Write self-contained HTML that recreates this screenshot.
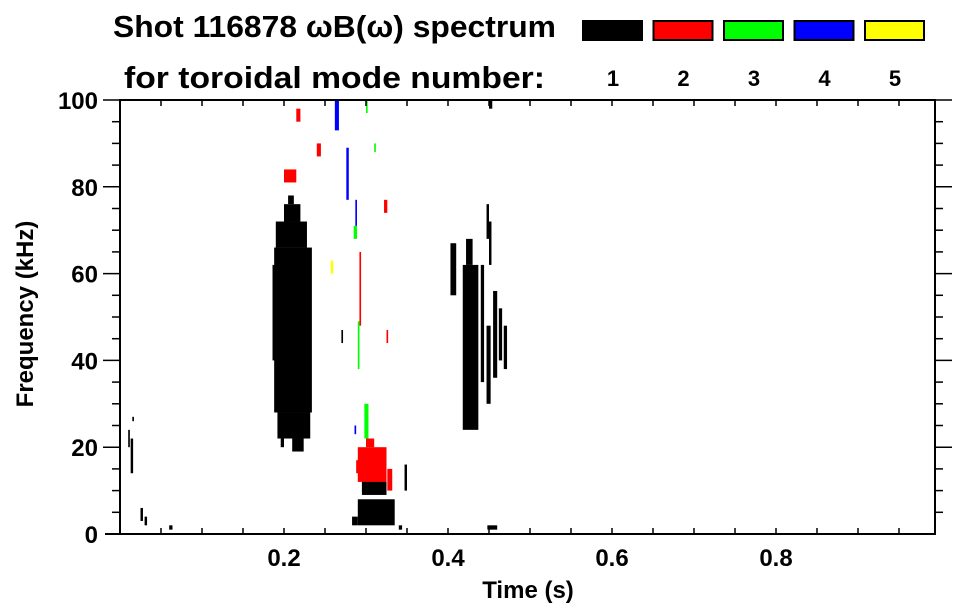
<!DOCTYPE html>
<html><head><meta charset="utf-8"><style>
body{margin:0;background:#fff;}
svg{display:block;font-family:"Liberation Sans",Arial,sans-serif;font-weight:bold;}
</style></head><body>
<svg id="chart" width="963" height="615" viewBox="0 0 963 615">
<text x="113" y="37" font-size="31" textLength="443" lengthAdjust="spacingAndGlyphs">Shot 116878 ωB(ω) spectrum</text>
<text x="124" y="88" font-size="31" textLength="421" lengthAdjust="spacingAndGlyphs">for toroidal mode number:</text>
<g id="legend"></g>
<g id="marks"></g>
<g id="axes"></g>
<text x="528" y="598" font-size="24" text-anchor="middle">Time (s)</text>
<text transform="translate(33,314) rotate(-90)" font-size="24" text-anchor="middle">Frequency (kHz)</text>
</svg>
<script>
const modeColors=["#000000","#ff0000","#00ff00","#0000ff","#ffff00"];
const modeLabels=["1","2","3","4","5"];
const xTicks=[0.2,0.4,0.6,0.8];
const yTicks=[0,20,40,60,80,100];
// spectrum cells: time start/end (s), freq start/end (kHz), mode index
const cellT0=[0.188,0.192,0.19,0.186,0.2,0.205,0.21,0.196,0.214, 0.418,0.422,0.403,0.44,0.447,0.455,0.462,0.468,0.45,0.447, 0.29,0.295,0.283,0.34,0.347, 0.013,0.025,0.03,0.06,0.448,0.45,0.01,0.015,0.27,
 0.29,0.3,0.326,0.288,0.2,0.215,0.24,0.292,0.325,0.322,
 0.285,0.29,0.3,0.298,0.31,
 0.262,0.276,0.287,0.286,
 0.257];
const cellT1=[0.234,0.232,0.228,0.19,0.22,0.212,0.224,0.2,0.218, 0.437,0.43,0.41,0.444,0.452,0.46,0.466,0.472,0.453,0.45, 0.335,0.325,0.29,0.344,0.35, 0.016,0.028,0.033,0.064,0.46,0.454,0.012,0.017,0.272,
 0.325,0.31,0.332,0.292,0.215,0.22,0.245,0.294,0.327,0.326,
 0.289,0.292,0.302,0.303,0.312,
 0.267,0.279,0.289,0.288,
 0.26];
const cellF0=[28,22,66,40,72,76,19,20,20, 24,62,55,35,30,36,40,38,62,68, 2,9,2,1,10, 14,3,2,1,1,98,20,26,44,
 12,20,10,14,81,95,87,48,44,74,
 68,38,97,22,88,
 93,77,71,23,
 60];
const cellF1=[66,28,72,62,76,78,22,22,22, 62,68,67,62,48,56,52,48,72,76, 8,13,4,2,16, 22,6,4,2,2,100,24,27,47,
 20,22,15,17,84,98,90,65,47,77,
 71,49,100,30,90,
 100,89,77,25,
 63];
const cellMode=[0,0,0,0,0,0,0,0,0, 0,0,0,0,0,0,0,0,0,0, 0,0,0,0,0, 0,0,0,0,0,0,0,0,0,
 1,1,1,1,1,1,1,1,1,1,
 2,2,2,2,2,
 3,3,3,3,
 4];
const NS="http://www.w3.org/2000/svg";
const L=120,R=935,T=100,B=534;
const xs=t=>L+820*t;
const ys=f=>B-(B-T)*f/100;
function mk(tag,attrs,parent){const e=document.createElementNS(NS,tag);for(const k in attrs)e.setAttribute(k,attrs[k]);parent.appendChild(e);return e;}
const marks=document.getElementById('marks');
for(let i=0;i<cellT0.length;i++){
  const x0=xs(cellT0[i]),x1=xs(cellT1[i]),y0=ys(cellF1[i]),y1=ys(cellF0[i]);
  const r=mk('rect',{x:x0,y:y0,width:Math.max(1,x1-x0),height:Math.max(1,y1-y0),fill:modeColors[cellMode[i]]},marks);
  
  
}
const lg=document.getElementById('legend');
for(let i=0;i<modeColors.length;i++){
  const x=582+70.5*i;
  const r=mk('rect',{x:x+1,y:21,width:59,height:19,fill:modeColors[i],stroke:'#000','stroke-width':2},lg);
  
  
  const t=mk('text',{x:x+31,y:86,'font-size':22,'text-anchor':'middle'},lg);
  t.textContent=modeLabels[i];
  
  
}
const ax=document.getElementById('axes');
mk('rect',{x:L,y:T,width:R-L,height:B-T,fill:'none',stroke:'#000','stroke-width':2},ax);
mk('line',{x1:105,y1:B,x2:R,y2:B,stroke:'#000','stroke-width':2},ax);
for(let t=0.05;t<1;t+=0.05){
  const x=xs(t);
  mk('line',{x1:x,y1:B,x2:x,y2:B-6,stroke:'#000','stroke-width':1.5},ax);
  mk('line',{x1:x,y1:T,x2:x,y2:T+6,stroke:'#000','stroke-width':1.5},ax);
}
for(const v of xTicks){
  const t=mk('text',{x:xs(v),y:566,'font-size':24,'text-anchor':'middle'},ax);
  t.textContent=v.toFixed(1);
  
  
}
for(let f=5;f<100;f+=5){
  const y=ys(f),maj=f%20===0;
  mk('line',{x1:L,y1:y,x2:L-(maj?17:8),y2:y,stroke:'#000','stroke-width':1.5},ax);
  mk('line',{x1:R,y1:y,x2:R+(maj?17:8),y2:y,stroke:'#000','stroke-width':1.5},ax);
}
mk('line',{x1:L,y1:T,x2:L-17,y2:T,stroke:'#000','stroke-width':1.5},ax);
mk('line',{x1:R,y1:T,x2:R+17,y2:T,stroke:'#000','stroke-width':1.5},ax);
for(const v of yTicks){
  const t=mk('text',{x:98,y:ys(v)+9,'font-size':24,'text-anchor':'end'},ax);
  t.textContent=v;
  
  
}
</script>
</body></html>
